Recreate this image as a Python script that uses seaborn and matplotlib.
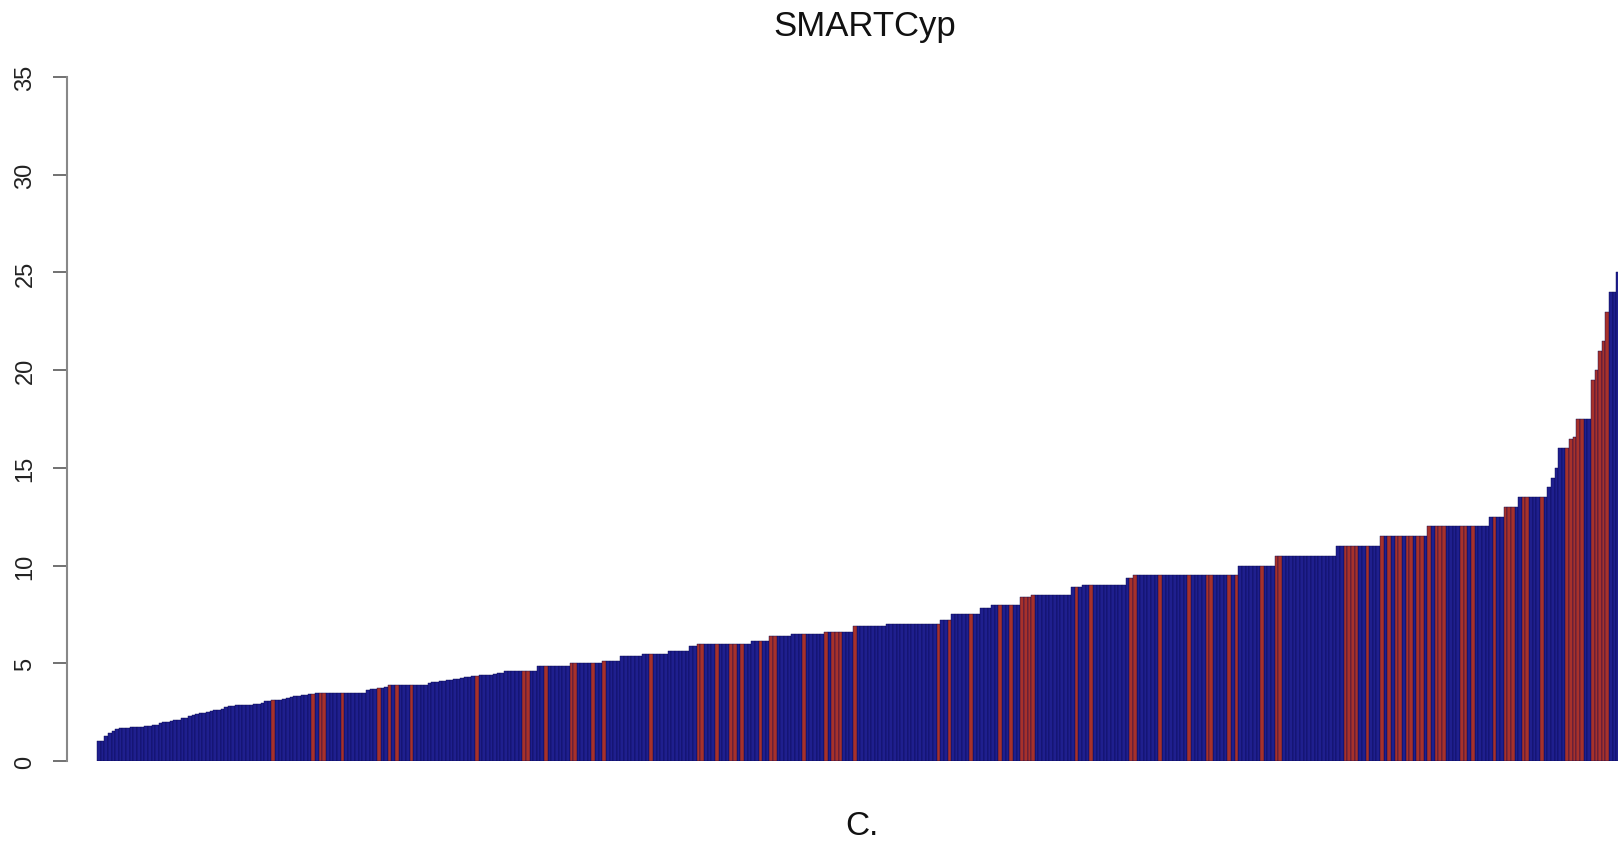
import numpy as np
import pandas as pd
import matplotlib.pyplot as plt
import seaborn as sns

# Score levels, as runs of equal-height bars (sorted ascending)
levels = [1.0, 1.3, 1.45, 1.55, 1.64, 1.68,
          1.7, 1.72, 1.74, 1.75, 1.76, 1.78, 1.8, 1.82, 1.85,
          1.95, 2.0, 2.02, 2.05, 2.1, 2.12, 2.18, 2.22,
          2.3, 2.35, 2.4, 2.45, 2.48, 2.5, 2.55, 2.6, 2.62, 2.68, 2.75, 2.8, 2.82,
          2.85, 2.86, 2.87, 2.88, 2.9, 2.92, 2.95,
          3.05, 3.08, 3.1, 3.12, 3.15, 3.2, 3.25,
          3.32, 3.35, 3.38, 3.4, 3.42, 3.45, 3.48,
          3.5, 3.65, 3.68, 3.7, 3.72, 3.75, 3.78, 3.9,
          4.0, 4.02, 4.05, 4.08, 4.1, 4.12, 4.15, 4.18, 4.2, 4.25,
          4.3, 4.32, 4.35, 4.37, 4.38, 4.4, 4.42, 4.45,
          4.5, 4.62, 4.88, 5.0, 5.13, 5.39, 5.5, 5.64, 5.87,
          6.0, 6.12, 6.38, 6.5, 6.62, 6.9, 7.0, 7.2, 7.5, 7.85, 8.0,
          8.4, 8.5, 8.9, 9.0, 9.35, 9.5, 10.0, 10.5, 11.0, 11.5, 12.0,
          12.5, 13.0, 13.5, 14.0, 14.5, 15.0, 16.0, 16.5, 16.6, 17.5,
          19.5, 20.0, 21.0, 21.5, 23.0, 24.0, 25.0]
counts = [2, 1, 1, 1, 1, 1,
          2, 1, 1, 1, 1, 1, 1, 1, 1,
          1, 1, 1, 1, 1, 1, 1, 1,
          1, 1, 1, 1, 1, 1, 1, 1, 1, 1, 1, 1, 1,
          1, 1, 1, 2, 1, 1, 1,
          1, 1, 2, 1, 1, 1, 1,
          1, 1, 1, 1, 1, 1, 1,
          13, 1, 1, 1, 1, 1, 1, 11,
          1, 1, 1, 1, 1, 1, 1, 1, 1, 1,
          1, 1, 1, 1, 1, 2, 1, 1,
          2, 9, 9, 9, 5, 6, 7, 6, 2,
          15, 5, 6, 9, 8, 9, 15, 3, 8, 3, 8,
          3, 11, 3, 12, 2, 29, 10, 17, 12, 13, 17,
          4, 4, 8, 1, 1, 1, 3, 1, 1, 4,
          1, 1, 1, 1, 1, 2, 1]

# Bars drawn in red
red_bars = [48, 59, 61, 62, 67, 77, 80, 82, 86, 104, 117, 118, 123, 130, 131,
            136, 139, 152, 165, 166, 170, 174, 175, 177, 182, 185, 186, 194,
            200, 202, 203, 204, 208, 231, 234, 240, 248, 251, 254, 255, 256,
            257, 269, 273, 284, 285, 292, 300, 305, 306, 311, 313, 320, 324,
            325, 343, 344, 345, 346, 349, 353, 355, 357, 358, 360, 361, 363,
            364, 366, 368, 369, 370, 375, 376, 378, 384, 387, 388, 389, 392,
            393, 397, 404, 405, 406, 407, 408, 411, 412, 413, 414, 415]

values = np.repeat(levels, counts)
n = len(values)
df = pd.DataFrame({"bar": np.arange(n), "score": values})
df["group"] = np.where(df["bar"].isin(red_bars), "red", "blue")

sns.set_style("white")
plt.rcParams["font.family"] = ["Liberation Sans", "DejaVu Sans"]

W, H = 1618, 845
fig = plt.figure(figsize=(W / 100, H / 100), dpi=100)
ax = fig.add_axes([67 / W, (H - 762) / H, (1620 - 67) / W, (762 - 78) / H])

sns.barplot(data=df, x="bar", y="score", hue="group",
            palette={"blue": "#0C0CA0", "red": "#BC1E16"},
            dodge=False, width=1.0, errorbar=None, legend=False,
            edgecolor="#06064E", linewidth=0.3, ax=ax)

# gap between the axis line and the first bar
bar_px = (1620 - 67 - 30) / n
ax.set_xlim(-0.5 - 30 / bar_px, n - 0.5)
ax.set_ylim(0, 35)

ax.set_xticks([])
ax.set_xlabel("")
ax.set_ylabel("")
ax.set_yticks(range(0, 36, 5))
ax.set_yticklabels([str(v) for v in range(0, 36, 5)], rotation=90, va="center", fontsize=17, color="#222222")
ax.tick_params(axis="y", length=10, width=1.3, color="#666666", pad=12, left=True)

for s in ["top", "right", "bottom"]:
    ax.spines[s].set_visible(False)
ax.spines["left"].set_color("#888888")
ax.spines["left"].set_linewidth(1.5)
ax.spines["left"].set_bounds(0, 35)

fig.text(865 / W, 1 - 36 / H, "SMARTCyp", ha="center", va="baseline", fontsize=25, color="#111111")
fig.text(862 / W, 10 / H, "C.", ha="center", va="baseline", fontsize=24, color="#111111")

fig.savefig("out.png", dpi=100)
